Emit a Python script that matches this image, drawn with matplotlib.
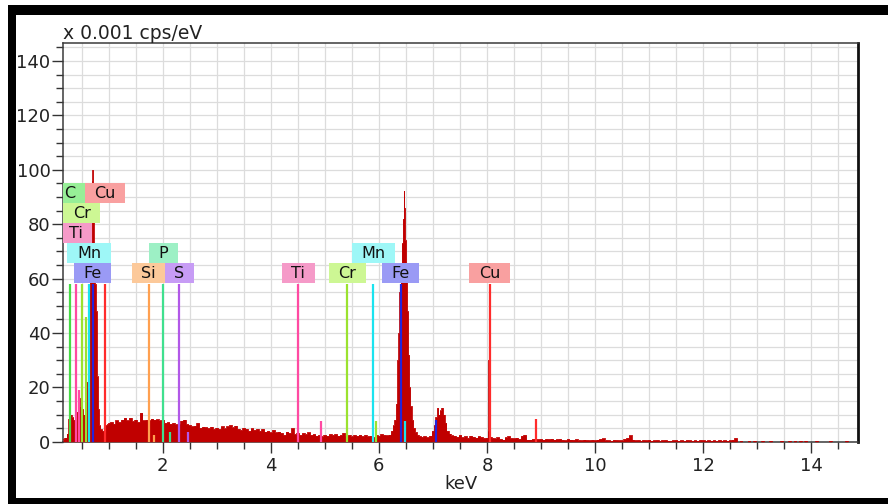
import numpy as np
import matplotlib
matplotlib.use("Agg")
import matplotlib.pyplot as plt
from matplotlib.ticker import MultipleLocator, FixedLocator
from matplotlib.patches import Rectangle

# ---------------- data ----------------
# low-energy part of the spectrum (keV, x0.001 cps/eV)
low_kev = [0.155, 0.20, 0.24, 0.27, 0.30, 0.33, 0.36, 0.39, 0.42, 0.45, 0.48, 0.51,
           0.54, 0.57, 0.60, 0.62, 0.64, 0.66, 0.68, 0.695, 0.705, 0.715, 0.73, 0.75,
           0.77, 0.79, 0.81, 0.83, 0.86, 0.89, 0.92, 0.95, 0.98]
low_counts = [1.0, 1.5, 3.0, 8.5, 10.0, 9.0, 8.0, 9.5, 11.0, 16.0, 13.0, 12.0,
              10.0, 14.0, 22.0, 40.0, 55.0, 60.0, 64.0, 96.0, 100.0, 90.0, 62.0, 58.0,
              48.0, 24.0, 12.0, 6.0, 4.5, 4.0, 5.0, 6.0, 6.5]

# background 1.00 .. 6.15 keV, every 0.05 keV
bg_start_kev = 1.00
bg_step_kev = 0.05
bg_counts = [6.9, 7.2, 6.6, 7.8, 7.2, 8.1, 8.8, 7.8, 8.8, 7.6,
             8.1, 7.2, 10.7, 7.8, 8.1, 7.8, 8.5, 8.1, 8.2, 7.8,
             8.1, 6.9, 7.2, 6.6, 6.9, 6.4, 6.6, 7.7, 8.1, 6.5,
             6.1, 5.6, 5.9, 6.9, 5.1, 5.5, 5.3, 4.9, 5.5, 4.7,
             5.1, 4.7, 5.6, 4.9, 5.6, 6.1, 5.3, 5.9, 4.7, 4.3,
             5.1, 4.7, 4.0, 4.9, 4.3, 4.7, 4.0, 4.7, 3.7, 4.0,
             3.4, 4.3, 3.4, 3.7, 3.2, 2.5, 3.7, 3.2, 4.9, 2.8,
             3.2, 2.5, 3.2, 2.8, 3.4, 2.5, 2.8, 2.2, 2.5, 2.0,
             2.5, 2.2, 2.8, 2.5, 2.8, 2.2, 2.5, 3.2, 2.2, 2.5,
             2.0, 2.5, 2.2, 2.6, 2.0, 2.5, 2.0, 2.2, 1.6, 2.5,
             2.2, 2.8, 2.5, 2.3]

# Fe K alpha / K beta region
fe_kev = [6.20, 6.24, 6.27, 6.30, 6.33, 6.35, 6.37, 6.39, 6.41, 6.43,
          6.45, 6.465, 6.475, 6.49, 6.51, 6.53, 6.55, 6.57, 6.59, 6.62,
          6.65, 6.68, 6.72, 6.76, 6.80, 6.85, 6.90, 6.95, 7.00, 7.03,
          7.06, 7.09, 7.11, 7.14, 7.17, 7.20, 7.23, 7.27, 7.31, 7.35]
fe_counts = [2.6, 4.0, 6.0, 8.0, 14.0, 30.0, 40.0, 55.0, 64.0, 73.0,
             82.0, 92.0, 86.0, 74.0, 62.0, 48.0, 32.0, 20.0, 13.0, 8.0,
             5.0, 3.5, 2.5, 2.0, 1.8, 2.0, 1.6, 2.2, 4.0, 6.0,
             9.0, 12.5, 10.0, 11.5, 12.5, 10.0, 7.0, 4.0, 3.0, 2.3]

# 7.40 .. 8.00 keV, every 0.05 keV
mid_start_kev = 7.40
mid_counts = [2.2, 1.8, 2.5, 1.6, 2.0, 1.4, 2.2, 1.8, 1.5, 2.0, 1.7, 1.3, 1.5]

# Cu K alpha spike
cu_kev = [8.02, 8.035, 8.05, 8.07]
cu_counts = [4.0, 30.0, 10.0, 1.8]

# tail 8.10 .. 14.85 keV, every 0.05 keV
tail_start_kev = 8.10
tail_counts = [1.4, 1.2, 1.6, 1.0, 0.8, 1.6, 2.0, 1.3, 1.2, 1.5,
               1.0, 2.2, 2.5, 0.8, 0.8, 1.0, 1.0, 0.9, 1.0, 0.8,
               1.0, 0.9, 1.1, 0.8, 0.9, 1.0, 0.7, 0.5, 1.0, 0.8,
               0.7, 0.9, 0.6, 0.5, 0.8, 0.6, 0.5, 0.7, 0.5, 0.8,
               1.0, 1.2, 0.6, 0.5, 0.3, 0.7, 0.6, 0.5, 0.5, 1.0,
               1.4, 2.3, 0.8, 0.5, 0.6, 0.3, 0.6, 0.5, 0.7, 0.4,
               0.5, 0.6, 0.3, 0.5, 0.6, 0.4, 0.3, 0.5, 0.6, 0.4,
               0.5, 0.3, 0.6, 0.5, 0.3, 0.5, 0.4, 0.6, 0.5, 0.3,
               0.5, 0.4, 0.5, 0.3, 0.6, 0.4, 0.5, 0.4, 0.5, 0.7,
               1.3, 0.0, 0.3, 0.0, 0.0, 0.4, 0.0, 0.3, 0.0, 0.0,
               0.3, 0.0, 0.0, 0.4, 0.0, 0.0, 0.0, 0.3, 0.0, 0.0,
               0.4, 0.0, 0.3, 0.0, 0.4, 0.0, 0.4, 0.0, 0.0, 0.0,
               0.3, 0.0, 0.0, 0.0, 0.0, 0.3, 0.0, 0.0, 0.0, 0.0,
               0.0, 0.3, 0.0, 0.0, 0.0, 0.0]

# element line markers
marker_element = ['C', 'Ti', 'Ti', 'Cr', 'Cr', 'Mn', 'Fe', 'Cu', 'Si', 'Si', 'P', 'P',
                  'S', 'S', 'Ti', 'Ti', 'Cr', 'Cr', 'Mn', 'Mn', 'Fe', 'Fe', 'Cu', 'Cu']
marker_kev = [0.277, 0.395, 0.452, 0.500, 0.573, 0.637, 0.705, 0.930, 1.740, 1.836,
              2.013, 2.139, 2.307, 2.464, 4.510, 4.932, 5.414, 5.946, 5.898, 6.490,
              6.403, 7.057, 8.047, 8.904]
marker_height = [58, 58, 19, 58, 46, 58, 58, 58, 58, 2.6, 58, 3.4,
                 58, 3.4, 58, 7.7, 58, 7.7, 58, 7.7, 58, 7.9, 58, 8.5]

# element labels
label_text = ['C', 'Cu', 'Cr', 'Ti', 'Mn', 'Fe', 'Si', 'P', 'S', 'Ti', 'Cr', 'Mn', 'Fe', 'Cu']
label_kev = [0.277, 0.930, 0.500, 0.395, 0.637, 0.705, 1.740, 2.013, 2.307,
             4.510, 5.414, 5.898, 6.403, 8.047]
label_level = [4, 4, 3, 2, 1, 0, 0, 1, 0, 0, 0, 1, 0, 0]

x_ticks = [2, 4, 6, 8, 10, 12, 14]
y_ticks = [0, 20, 40, 60, 80, 100, 120, 140]

# ---------------- styles ----------------
line_color = {'C': '#45dc45', 'Cu': '#ff2b2b', 'Cr': '#9be22f', 'Ti': '#ff4aa2',
              'Mn': '#1ae3ef', 'Fe': '#2323dc', 'Si': '#ffa050', 'P': '#3fe08e',
              'S': '#b258e8'}
box_color = {'C': '#97ef97', 'Cu': '#f9a0a0', 'Cr': '#cdf794', 'Ti': '#f59ac8',
             'Mn': '#9ef7f7', 'Fe': '#9a9af5', 'Si': '#fcc99a', 'P': '#9df0c5',
             'S': '#c79cf5'}
spec_color = '#c00000'

# ---------------- assemble spectrum ----------------
bg_kev = bg_start_kev + bg_step_kev * np.arange(len(bg_counts))
mid_kev = mid_start_kev + 0.05 * np.arange(len(mid_counts))
tail_kev = tail_start_kev + 0.05 * np.arange(len(tail_counts))
energy = np.concatenate([low_kev, bg_kev, fe_kev, mid_kev, cu_kev, tail_kev])
counts = np.concatenate([low_counts, bg_counts, fe_counts, mid_counts, cu_counts, tail_counts])

# ---------------- figure ----------------
W, H = 888, 504
fig = plt.figure(figsize=(W / 100, H / 100), dpi=100)
fig.patch.set_facecolor('white')

# black frame of the screenshot
for (x0, y0, w, h) in [(8, 5, 880, 10), (8, 5, 8, 499), (8, 498, 880, 6)]:
    fig.patches.append(Rectangle((x0 / W, 1 - (y0 + h) / H), w / W, h / H,
                                 transform=fig.transFigure, facecolor='black',
                                 edgecolor='none', zorder=0))

ax_l, ax_r, ax_t, ax_b = 63, 858, 43, 441.7
ax = fig.add_axes([ax_l / W, 1 - ax_b / H, (ax_r - ax_l) / W, (ax_b - ax_t) / H])
ax.set_xlim(0.155, 14.865)
ax.set_ylim(0, 146.6)

ax.xaxis.set_major_locator(FixedLocator(x_ticks))
ax.xaxis.set_minor_locator(MultipleLocator(0.5))
ax.yaxis.set_major_locator(FixedLocator(y_ticks))
ax.yaxis.set_minor_locator(MultipleLocator(5))
ax.grid(which='both', color='#dcdcdc', linewidth=0.9)
ax.set_axisbelow(True)

ax.tick_params(axis='both', which='major', length=8, width=1, color='#333333',
               labelsize=13, labelcolor='#222222')
ax.tick_params(axis='both', which='minor', length=5, width=1, color='#333333')
ax.tick_params(axis='x', pad=3)
ax.tick_params(axis='y', pad=1)
for s in ['left', 'bottom', 'top']:
    ax.spines[s].set_color('#3a3a3a')
    ax.spines[s].set_linewidth(1.1)
ax.spines['right'].set_color('#111111')
ax.spines['right'].set_linewidth(2)

# spectrum
ax.fill_between(energy, counts, 0, step='mid', color=spec_color, linewidth=0, zorder=3)
ax.step(energy, counts, where='mid', color=spec_color, linewidth=0.6, zorder=3)

# markers
ax.vlines(marker_kev, 0, marker_height,
          colors=[line_color[e] for e in marker_element], linewidth=1.6, zorder=4)

# labels
fig.canvas.draw()
renderer = fig.canvas.get_renderer()
px_per_kev = ax.bbox.width / (ax.get_xlim()[1] - ax.get_xlim()[0])
row_base, row_pitch, row_h = 58.5, 7.35, 7.15
for txt, e, lev in zip(label_text, label_kev, label_level):
    yb = row_base + lev * row_pitch
    t = ax.text(e, yb + row_h / 2 - 0.2, txt, ha='center', va='center', fontsize=11.5,
                color='#111111', zorder=6, clip_on=True)
    w_px = t.get_window_extent(renderer).width + 19
    w = w_px / px_per_kev
    ax.add_patch(Rectangle((e - w / 2, yb), w, row_h, facecolor=box_color[txt],
                           edgecolor='none', zorder=5))

# axis titles
ax.text(0.0, 1.0, 'x 0.001 cps/eV', transform=ax.transAxes, ha='left', va='bottom',
        fontsize=13.5, color='#222222')
ax.set_xlabel('keV', fontsize=13, color='#222222', labelpad=0)

fig.savefig('out.png', dpi=100)
